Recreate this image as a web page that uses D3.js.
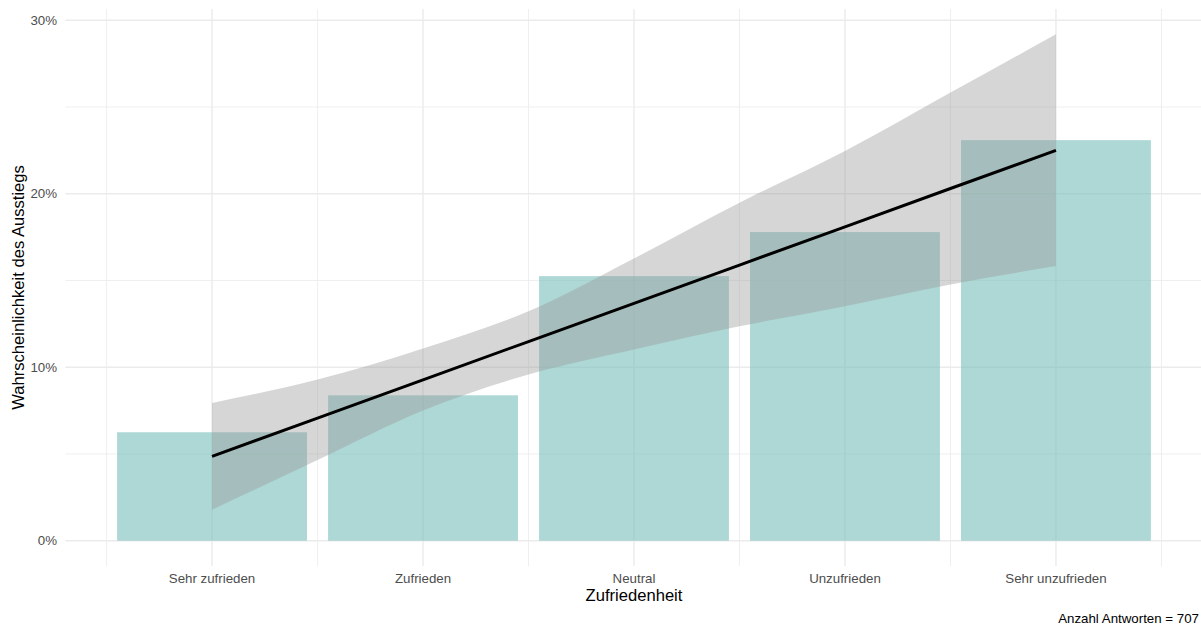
<!DOCTYPE html>
<html>
<head>
<meta charset="utf-8">
<script src="https://cdn.jsdelivr.net/npm/d3@7"></script>
<style>
  html, body { margin: 0; padding: 0; background: #fff; }
  svg { display: block; font-family: "Liberation Sans", Arial, sans-serif; }
</style>
</head>
<body>
<svg id="chart" width="1201" height="626"></svg>
<script>
// Satisfaction categories and observed exit probability per category
const categories = ["Sehr zufrieden", "Zufrieden", "Neutral", "Unzufrieden", "Sehr unzufrieden"];
const exitRate = [0.0625, 0.0838, 0.1525, 0.1779, 0.2309];

// Linear trend with confidence band, evaluated along the category axis (1..5)
const fitX     = [1, 1.5, 2, 2.5, 3, 3.5, 4, 4.5, 5];
const fitValue = [0.0486, 0.0707, 0.0927, 0.1148, 0.1368, 0.1589, 0.1809, 0.2030, 0.2250];
const fitLower = [0.0179, 0.0465, 0.0750, 0.0958, 0.1102, 0.1236, 0.1352, 0.1477, 0.1583];
const fitUpper = [0.0794, 0.0929, 0.1108, 0.1323, 0.1627, 0.1948, 0.2246, 0.2583, 0.2919];

const yTicks      = [0, 0.10, 0.20, 0.30];
const yMinorTicks = [0.05, 0.15, 0.25];
const caption = "Anzahl Antworten = 707";

const svg = d3.select("#chart");
const panel = { left: 65.4, right: 1202.6, top: 9, bottom: 566 };

// Continuous x axis: categories at 1..5, bars of width 0.9, 5% expansion
const barWidth = 0.9;
const xMin = 1 - barWidth / 2, xMax = categories.length + barWidth / 2;
const xPad = (xMax - xMin) * 0.05;
const x = d3.scaleLinear().domain([xMin - xPad, xMax + xPad]).range([panel.left, panel.right]);

const yMaxData = d3.max(fitUpper.concat(exitRate));
const yPad = yMaxData * 0.05;
const y = d3.scaleLinear().domain([-yPad, yMaxData + yPad]).range([panel.bottom, panel.top]);

const grid = svg.append("g");
const gridColor = "#ebebeb";

// minor grid
yMinorTicks.forEach(v => {
  grid.append("line").attr("x1", panel.left).attr("x2", panel.right)
    .attr("y1", y(v)).attr("y2", y(v))
    .attr("stroke", gridColor).attr("stroke-width", 0.8);
});
const xMinor = d3.range(0.5, categories.length + 1, 1);
xMinor.forEach(v => {
  grid.append("line").attr("x1", x(v)).attr("x2", x(v))
    .attr("y1", panel.top).attr("y2", panel.bottom)
    .attr("stroke", gridColor).attr("stroke-width", 0.8);
});
// major grid
yTicks.forEach(v => {
  grid.append("line").attr("x1", panel.left).attr("x2", panel.right)
    .attr("y1", y(v)).attr("y2", y(v))
    .attr("stroke", gridColor).attr("stroke-width", 1.4);
});
categories.forEach((c, i) => {
  grid.append("line").attr("x1", x(i + 1)).attr("x2", x(i + 1))
    .attr("y1", panel.top).attr("y2", panel.bottom)
    .attr("stroke", gridColor).attr("stroke-width", 1.4);
});

// bars
svg.append("g").selectAll("rect").data(exitRate).join("rect")
  .attr("x", (d, i) => x(i + 1 - barWidth / 2))
  .attr("width", (d, i) => x(i + 1 + barWidth / 2) - x(i + 1 - barWidth / 2))
  .attr("y", d => y(d))
  .attr("height", d => y(0) - y(d))
  .attr("fill", "#76beb9")
  .attr("fill-opacity", 0.6);

// confidence band
const band = fitX.map((v, i) => ({ x: v, lo: fitLower[i], hi: fitUpper[i] }));
svg.append("path")
  .datum(band)
  .attr("d", d3.area().x(d => x(d.x)).y0(d => y(d.lo)).y1(d => y(d.hi)).curve(d3.curveMonotoneX))
  .attr("fill", "#999999")
  .attr("fill-opacity", 0.4);

// trend line
svg.append("path")
  .datum(fitX.map((v, i) => ({ x: v, y: fitValue[i] })))
  .attr("d", d3.line().x(d => x(d.x)).y(d => y(d.y)))
  .attr("fill", "none")
  .attr("stroke", "#000")
  .attr("stroke-width", 3);

// y axis labels
const fmt = d3.format(".0%");
svg.append("g").selectAll("text").data(yTicks).join("text")
  .attr("x", 57).attr("y", d => y(d)).attr("dy", "0.35em")
  .attr("text-anchor", "end")
  .attr("fill", "#4d4d4d").attr("font-size", 13.3)
  .text(d => fmt(d));

// x axis labels
svg.append("g").selectAll("text").data(categories).join("text")
  .attr("x", (d, i) => x(i + 1)).attr("y", 583)
  .attr("text-anchor", "middle")
  .attr("fill", "#4d4d4d").attr("font-size", 13.3)
  .text(d => d);

// axis titles
svg.append("text")
  .attr("x", (x(1) + x(categories.length)) / 2).attr("y", 601)
  .attr("text-anchor", "middle").attr("fill", "#000").attr("font-size", 16.6)
  .text("Zufriedenheit");

svg.append("text")
  .attr("transform", `translate(24,${(panel.top + panel.bottom) / 2}) rotate(-90)`)
  .attr("text-anchor", "middle").attr("fill", "#000").attr("font-size", 16.6)
  .text("Wahrscheinlichkeit des Ausstiegs");

// caption
svg.append("text")
  .attr("x", 1199).attr("y", 623)
  .attr("text-anchor", "end").attr("fill", "#000").attr("font-size", 13.3)
  .text(caption);
</script>
</body>
</html>
